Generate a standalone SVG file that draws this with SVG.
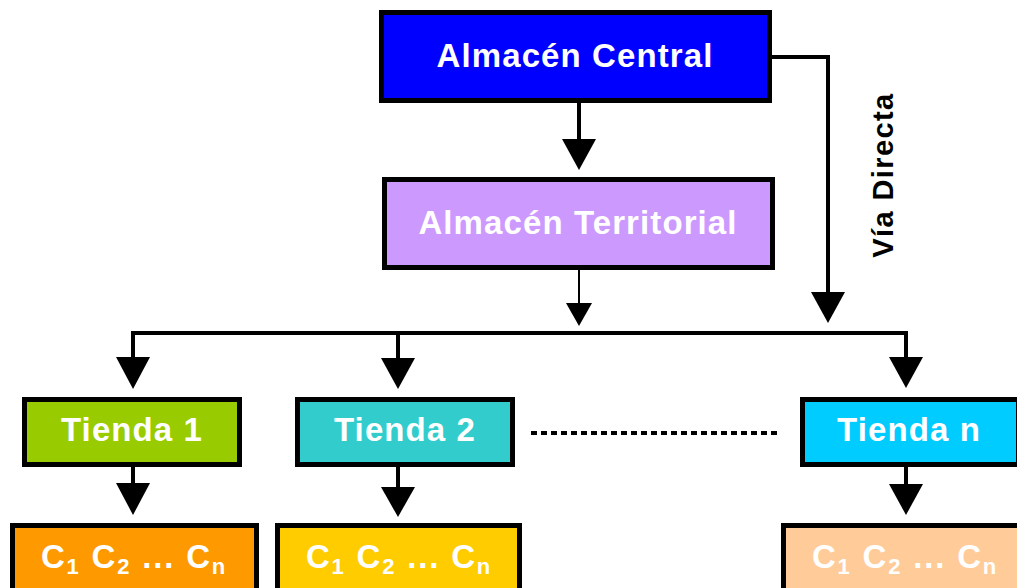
<svg xmlns="http://www.w3.org/2000/svg" width="1017" height="588" viewBox="0 0 1017 588">
  <defs>
    <style>
      .box { stroke: #000; stroke-width: 5; }
      .lbl { font-family: "Liberation Sans", Arial, sans-serif; font-weight: bold; font-size: 33px; fill: #fff; text-anchor: middle; letter-spacing: 1.1px; }
      .cl { letter-spacing: 1.8px; }
      .sub { font-size: 22px; }
      .wire { fill: none; stroke: #000; stroke-width: 4; }
      .thin { fill: none; stroke: #000; stroke-width: 2; }
      .head { fill: #000; }
    </style>
  </defs>

  <g id="almacen-central">
    <rect class="box" x="381.5" y="12.5" width="388" height="88" fill="#0000FF"/>
    <text class="lbl" x="575" y="67">Almacén Central</text>
  </g>

  <g id="almacen-territorial">
    <rect class="box" x="384.5" y="179.5" width="388" height="88" fill="#CC99FF"/>
    <text class="lbl" x="578" y="234">Almacén Territorial</text>
  </g>

  <g id="tienda-1">
    <rect class="box" x="24.5" y="399.5" width="215" height="65" fill="#99CC00"/>
    <text class="lbl" x="132" y="441">Tienda 1</text>
  </g>

  <g id="tienda-2">
    <rect class="box" x="297.5" y="399.5" width="215" height="65" fill="#33CCCC"/>
    <text class="lbl" x="405" y="441">Tienda 2</text>
  </g>

  <g id="tienda-n">
    <rect class="box" x="802.5" y="399.5" width="216" height="65" fill="#00CCFF"/>
    <text class="lbl" x="909" y="441">Tienda n</text>
  </g>

  <g id="clientes-1">
    <rect class="box" x="12.5" y="525.5" width="244" height="80" fill="#FF9900"/>
    <text class="lbl cl" x="134" y="568">C<tspan class="sub" dy="6">1</tspan><tspan dy="-6"> C</tspan><tspan class="sub" dy="6">2</tspan><tspan dy="-6"> ... C</tspan><tspan class="sub" dy="6">n</tspan></text>
  </g>

  <g id="clientes-2">
    <rect class="box" x="277.5" y="525.5" width="242" height="80" fill="#FFCC00"/>
    <text class="lbl cl" x="399" y="568">C<tspan class="sub" dy="6">1</tspan><tspan dy="-6"> C</tspan><tspan class="sub" dy="6">2</tspan><tspan dy="-6"> ... C</tspan><tspan class="sub" dy="6">n</tspan></text>
  </g>

  <g id="clientes-n">
    <rect class="box" x="783.5" y="525.5" width="240" height="80" fill="#FFCC99"/>
    <text class="lbl cl" x="905" y="568">C<tspan class="sub" dy="6">1</tspan><tspan dy="-6"> C</tspan><tspan class="sub" dy="6">2</tspan><tspan dy="-6"> ... C</tspan><tspan class="sub" dy="6">n</tspan></text>
  </g>

  <g id="via-directa-label">
    <text x="893" y="175" transform="rotate(-90 893 175)" font-family="Liberation Sans, Arial, sans-serif" font-weight="bold" font-size="29" letter-spacing="1.4" fill="#000" text-anchor="middle">Vía Directa</text>
  </g>

  <g id="connectors">
    <!-- central to territorial -->
    <line class="wire" x1="579" y1="101" x2="579" y2="141"/>
    <polygon class="head" points="562,139 596,139 579,170"/>
    <!-- territorial to distribution bus -->
    <line class="thin" x1="579" y1="268" x2="579" y2="305"/>
    <polygon class="head" points="566,303 592,303 579,326"/>
    <!-- direct route from central -->
    <polyline class="wire" points="771,57 828,57 828,294"/>
    <polygon class="head" points="811,292 845,292 828,323"/>
    <!-- distribution bus -->
    <polyline class="wire" points="133,359 133,333 906,333 906,359"/>
    <line class="wire" x1="398" y1="333" x2="398" y2="359"/>
    <polygon class="head" points="116,357 150,357 133,389"/>
    <polygon class="head" points="381,358 415,358 398,389"/>
    <polygon class="head" points="889,357 923,357 906,388"/>
    <!-- shops to customers -->
    <line class="wire" x1="133" y1="465" x2="133" y2="485"/>
    <polygon class="head" points="116,483 150,483 133,515"/>
    <line class="wire" x1="398" y1="465" x2="398" y2="489"/>
    <polygon class="head" points="381,487 415,487 398,517"/>
    <line class="wire" x1="906" y1="465" x2="906" y2="486"/>
    <polygon class="head" points="889,484 923,484 906,515"/>
    <!-- ellipsis between shops -->
    <line x1="531" y1="433" x2="777" y2="433" stroke="#000" stroke-width="4" stroke-dasharray="6 4"/>
  </g>
</svg>
